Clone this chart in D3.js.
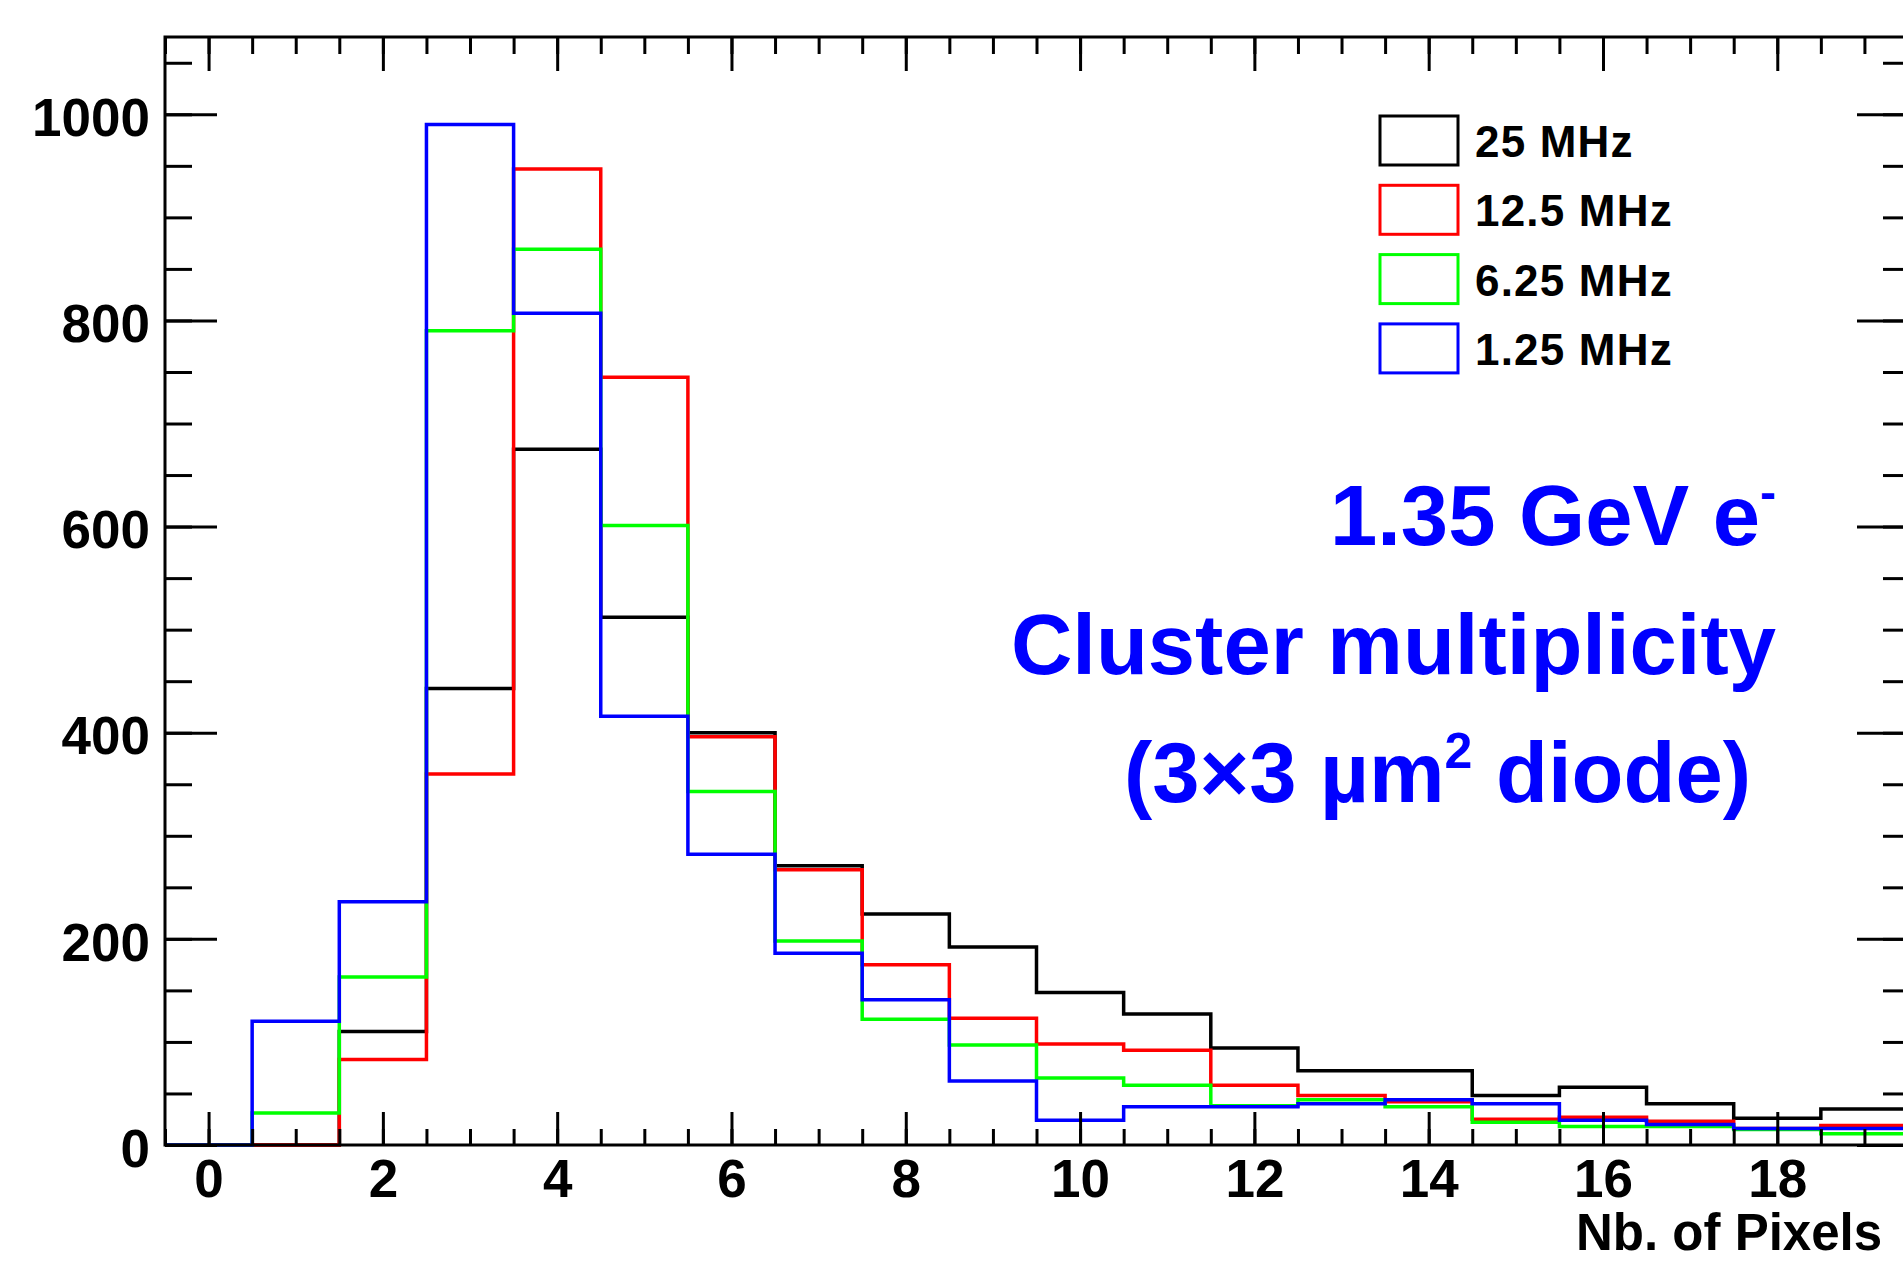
<!DOCTYPE html>
<html>
<head>
<meta charset="utf-8">
<script src="https://cdn.jsdelivr.net/npm/d3@7"></script>
<style>
  body { margin: 0; background: #fff; }
  svg { display: block; }
  text { font-family: "Liberation Sans", Arial, Helvetica, sans-serif; font-weight: bold; }
</style>
</head>
<body>
<div id="chart"></div>
<script>
// Chart size (the original picture is cropped on the right edge)
const width = 1903;
const height = 1263;

// Bin centres: number of pixels in a cluster
const bins = d3.range(0, 20);

// Counts, one value per bin
const counts25 = [0, 0, 110, 443, 675, 512, 400, 271, 224, 192, 148, 127, 94, 72, 72, 48, 56, 40, 26, 35];
const counts125 = [0, 0, 83, 360, 947, 745, 396, 267, 175, 123, 98, 92, 58, 48, 42, 25, 27, 23, 16, 19];
const counts625 = [0, 31, 163, 790, 869, 601, 343, 198, 122, 97, 65, 58, 38, 44, 37, 22, 18, 18, 15, 11];
const counts1p25 = [0, 120, 236, 990, 807, 416, 282, 186, 141, 62, 24, 37, 37, 40, 44, 40, 24, 20, 16, 16];

const seriesNames = ["25 MHz", "12.5 MHz", "6.25 MHz", "1.25 MHz"];
const seriesColors = ["#000000", "#ff0000", "#00ff00", "#0000ff"];
const seriesCounts = [counts25, counts125, counts625, counts1p25];

// Axis ticks
const xMajor = [0, 2, 4, 6, 8, 10, 12, 14, 16, 18];
const xMinor = d3.range(-0.5, 19.51, 0.5);
const yMajor = [0, 200, 400, 600, 800, 1000];
const yMinor = d3.range(0, 1076, 50);

// Plot frame
const frameLeft = 165, frameRight = 1908, frameTop = 37, frameBottom = 1145;

let x = d3.scaleLinear().domain([-0.5, 19.5]).range([frameLeft, frameRight]);
let y = d3.scaleLinear().domain([0, 1075]).range([frameBottom, frameTop]);

let svg = d3.select("#chart").append("svg")
            .attr("width", width)
            .attr("height", height);

// histograms, drawn in order so blue sits on top
let line = d3.line().x(function(d) { return x(d[0]); }).y(function(d) { return y(d[1]); });

seriesCounts.forEach(function(vals, k) {
    let pts = [[-0.5, 0]];
    bins.forEach(function(b, i) {
        pts.push([b - 0.5, vals[i]]);
        pts.push([b + 0.5, vals[i]]);
    });
    pts.push([19.5, 0]);
    svg.append("path")
       .attr("d", line(pts))
       .attr("fill", "none")
       .attr("stroke", seriesColors[k])
       .attr("stroke-width", 3.5);
});

// helper to style an axis group
function styleAxis(g) {
    g.select(".domain").remove();
    g.selectAll("line").attr("stroke", "#000").attr("stroke-width", 3);
    g.selectAll("text").attr("fill", "#000").style("font-size", "53px");
}

// bottom axis
svg.append("g").attr("transform", "translate(0," + frameBottom + ")")
   .call(d3.axisBottom(x).tickValues(xMinor).tickSizeInner(-16).tickSizeOuter(0).tickFormat(""))
   .call(styleAxis);
svg.append("g").attr("transform", "translate(0," + frameBottom + ")")
   .call(d3.axisBottom(x).tickValues(xMajor).tickSizeInner(-33).tickSizeOuter(0).tickPadding(14))
   .call(styleAxis);

// top axis (ticks only)
svg.append("g").attr("transform", "translate(0," + frameTop + ")")
   .call(d3.axisTop(x).tickValues(xMinor).tickSizeInner(-17).tickSizeOuter(0).tickFormat(""))
   .call(styleAxis);
svg.append("g").attr("transform", "translate(0," + frameTop + ")")
   .call(d3.axisTop(x).tickValues(xMajor).tickSizeInner(-34).tickSizeOuter(0).tickFormat(""))
   .call(styleAxis);

// left axis
svg.append("g").attr("transform", "translate(" + frameLeft + ",0)")
   .call(d3.axisLeft(y).tickValues(yMinor).tickSizeInner(-27).tickSizeOuter(0).tickFormat(""))
   .call(styleAxis);
let yAxis = svg.append("g").attr("transform", "translate(" + frameLeft + ",0)")
   .call(d3.axisLeft(y).tickValues(yMajor).tickSizeInner(-52).tickSizeOuter(0).tickPadding(15).tickFormat(d3.format("d")))
   .call(styleAxis);
yAxis.selectAll("text").attr("dy", "0.4em");

// right axis (ticks only)
svg.append("g").attr("transform", "translate(" + frameRight + ",0)")
   .call(d3.axisRight(y).tickValues(yMinor).tickSizeInner(-25).tickSizeOuter(0).tickFormat(""))
   .call(styleAxis);
svg.append("g").attr("transform", "translate(" + frameRight + ",0)")
   .call(d3.axisRight(y).tickValues(yMajor).tickSizeInner(-51).tickSizeOuter(0).tickFormat(""))
   .call(styleAxis);

// frame
svg.append("rect")
   .attr("x", frameLeft).attr("y", frameTop)
   .attr("width", frameRight - frameLeft).attr("height", frameBottom - frameTop)
   .attr("fill", "none").attr("stroke", "#000").attr("stroke-width", 3);

// x axis title
svg.append("text")
   .attr("x", 1576).attr("y", 1250)
   .style("font-size", "51px")
   .text("Nb. of Pixels");

// legend
let legend = svg.selectAll(".legend")
                .data(seriesNames)
                .enter()
                .append("g")
                .attr("transform", function(d, i) { return "translate(1380," + (116 + i * 69.3) + ")"; });

legend.append("rect")
      .attr("width", 78).attr("height", 49)
      .attr("fill", "#fff")
      .attr("stroke", function(d, i) { return seriesColors[i]; })
      .attr("stroke-width", 3);

legend.append("text")
      .attr("x", 95).attr("y", 41)
      .style("font-size", "44px")
      .style("letter-spacing", "1.2px")
      .text(function(d) { return d; });

// blue annotation
let note = svg.append("g").attr("fill", "#0000ff").style("font-size", "85px");

let t1 = note.append("text").attr("x", 1776).attr("y", 545).attr("text-anchor", "end");
t1.append("tspan").text("1.35 GeV e");
t1.append("tspan").attr("dy", -36).style("font-size", "48px").text("-");

note.append("text").attr("x", 1776).attr("y", 674).attr("text-anchor", "end")
    .text("Cluster multiplicity");

let t3 = note.append("text").attr("x", 1751).attr("y", 802).attr("text-anchor", "end");
t3.append("tspan").text("(3\u00d73 \u00b5m");
t3.append("tspan").attr("dy", -34).style("font-size", "50px").text("2");
t3.append("tspan").attr("dy", 34).text(" diode)");
</script>
</body>
</html>
